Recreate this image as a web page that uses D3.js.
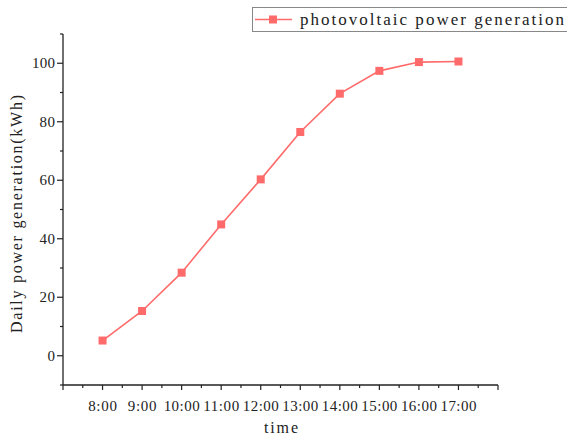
<!DOCTYPE html>
<html>
<head>
<meta charset="utf-8">
<script src="https://cdn.jsdelivr.net/npm/d3@7"></script>
<style>
  body { margin: 0; background: #fff; }
  text { font-family: "Liberation Serif", "DejaVu Serif", serif; fill: #222; }
</style>
</head>
<body>
<svg id="main" width="567" height="437"></svg>
<script>
"use strict";

// data
const hours = [8, 9, 10, 11, 12, 13, 14, 15, 16, 17];
const hourLabels = ["8:00", "9:00", "10:00", "11:00", "12:00", "13:00", "14:00", "15:00", "16:00", "17:00"];
const power = [5.2, 15.3, 28.4, 44.9, 60.3, 76.5, 89.6, 97.4, 100.4, 100.6];
const yTicks = [0, 20, 40, 60, 80, 100];
const seriesName = "photovoltaic power generation";

const color = "#ff6b6b";
const charW = 7.2; // labels are set in a half-width font
const mySvg = d3.select("#main");

const x = d3.scaleLinear().domain([7, 18]).range([63, 498]);
const y = d3.scaleLinear().domain([-10, 110]).range([385, 34]);

// x axis: major ticks on the hours, minor ones between
const xAxis = mySvg.append("g").attr("transform", "translate(0,385)");
xAxis.append("line").attr("x1", x(7)).attr("x2", x(18)).attr("stroke", "#222").attr("stroke-width", 1.3);
xAxis.selectAll(".maj").data(d3.range(7, 19)).enter().append("line")
  .attr("x1", d => x(d)).attr("x2", d => x(d)).attr("y1", 0).attr("y2", 5)
  .attr("stroke", "#222").attr("stroke-width", 1.2);
xAxis.selectAll(".min").data(d3.range(7.5, 18, 1)).enter().append("line")
  .attr("x1", d => x(d)).attr("x2", d => x(d)).attr("y1", 0).attr("y2", 3)
  .attr("stroke", "#222").attr("stroke-width", 1.2);
xAxis.selectAll(".lbl").data(hours).enter().append("text")
  .attr("x", d => x(d)).attr("y", 26)
  .attr("text-anchor", "middle").style("font-size", "15px")
  .attr("textLength", (d, i) => hourLabels[i].length * charW).attr("lengthAdjust", "spacing")
  .text((d, i) => hourLabels[i]);

// y axis
const yAxis = mySvg.append("g").attr("transform", "translate(63,0)");
yAxis.append("line").attr("y1", y(-10)).attr("y2", y(110)).attr("stroke", "#222").attr("stroke-width", 1.3);
yAxis.selectAll(".maj").data(yTicks).enter().append("line")
  .attr("y1", d => y(d)).attr("y2", d => y(d)).attr("x1", 0).attr("x2", -6)
  .attr("stroke", "#222").attr("stroke-width", 1.2);
yAxis.selectAll(".min").data(d3.range(-10, 111, 20)).enter().append("line")
  .attr("y1", d => y(d)).attr("y2", d => y(d)).attr("x1", 0).attr("x2", -3)
  .attr("stroke", "#222").attr("stroke-width", 1.2);
yAxis.selectAll(".lbl").data(yTicks).enter().append("text")
  .attr("x", -8).attr("y", d => y(d) + 5)
  .attr("text-anchor", "end").style("font-size", "15px")
  .attr("textLength", d => String(d).length * 7.7).attr("lengthAdjust", "spacing")
  .text(d => d);

// axis titles
mySvg.append("text")
  .attr("transform", "translate(22,214) rotate(-90)")
  .attr("text-anchor", "middle").style("font-size", "16px")
  .attr("textLength", 238).attr("lengthAdjust", "spacing")
  .text("Daily power generation(kWh)");
mySvg.append("text")
  .attr("x", 281).attr("y", 433)
  .attr("text-anchor", "middle").style("font-size", "16px")
  .attr("textLength", 34).attr("lengthAdjust", "spacing")
  .text("time");

// series
const line = d3.line().x((d, i) => x(hours[i])).y(d => y(d));
mySvg.append("path").datum(power)
  .attr("d", line).attr("fill", "none")
  .attr("stroke", color).attr("stroke-width", 1.6);
mySvg.selectAll(".pt").data(power).enter().append("rect")
  .attr("x", (d, i) => x(hours[i]) - 4).attr("y", d => y(d) - 4)
  .attr("width", 8).attr("height", 8).attr("fill", color);

// legend
const legend = mySvg.append("g");
legend.append("rect").attr("x", 252.5).attr("y", 7.5).attr("width", 320).attr("height", 24)
  .attr("fill", "#fff").attr("stroke", "#888").attr("stroke-width", 1);
legend.append("line").attr("x1", 255).attr("x2", 292).attr("y1", 19.5).attr("y2", 19.5)
  .attr("stroke", color).attr("stroke-width", 1.6);
legend.append("rect").attr("x", 269).attr("y", 15.5).attr("width", 8).attr("height", 8).attr("fill", color);
legend.append("text").attr("x", 300).attr("y", 25)
  .style("font-size", "17px")
  .attr("textLength", 264).attr("lengthAdjust", "spacing")
  .text(seriesName);
</script>
</body>
</html>
